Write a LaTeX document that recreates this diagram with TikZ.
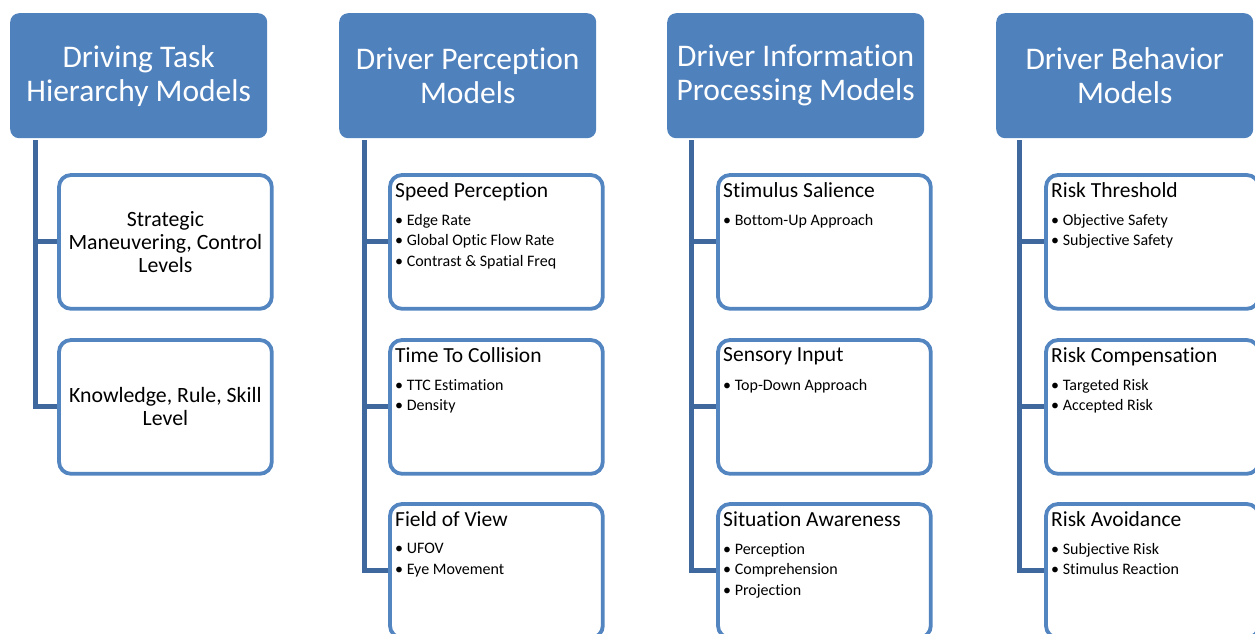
\documentclass[tikz,border=0pt]{standalone}
\usepackage{fontspec}
\setmainfont{Carlito}[Ligatures={NoCommon}]
\begin{document}
\begin{tikzpicture}[x=1pt,y=-1pt,
  hdr/.style={draw=none,fill=hblue,rounded corners=9pt,minimum width=257pt,minimum height=125pt,anchor=north west,inner sep=0pt,text=white,font=\fontsize{31.5}{34}\selectfont,align=center},
  child/.style={draw=cblue,line width=3.8pt,fill=white,rounded corners=12pt,minimum width=209pt,minimum height=130pt,anchor=north west,inner sep=0pt},
  ttl/.style={anchor=north west,inner sep=0pt,font=\fontsize{21.5}{24}\selectfont,text=black},
  bul/.style={anchor=north west,inner sep=0pt,font=\fontsize{16}{20.5}\selectfont,align=left,text=black},
  ctr/.style={inner sep=0pt,font=\fontsize{21.8}{23}\selectfont,align=center,text=black},
  conn/.style={draw=lblue,line width=5pt}]
\definecolor{hblue}{RGB}{79,129,189}
\definecolor{cblue}{RGB}{83,133,193}
\definecolor{lblue}{RGB}{62,104,158}
\useasboundingbox (0,0) rectangle (1255,633);
% headers
\node[hdr] (h1) at (10,13) {Driving Task\\Hierarchy Models};
\node[hdr] (h2) at (339,13) {Driver Perception\\Models};
\node[hdr] (h3) at (667,13) {Driver Information\\Processing Models};
\node[hdr] (h4) at (996,13) {Driver Behavior\\Models};
% top coordinates of connectors
\coordinate (t1) at (35,140);
\coordinate (t2) at (364,140);
\coordinate (t3) at (691,140);
\coordinate (t4) at (1019,140);
% column 1
\node[child] (b11) at (59,175) {};
\node[child] (b12) at (59,340) {};
% column 2
\node[child] (b21) at (390,175) {};
\node[child] (b22) at (390,340) {};
\node[child] (b23) at (390,504) {};
% column 3
\node[child] (b31) at (718,175) {};
\node[child] (b32) at (718,340) {};
\node[child] (b33) at (718,504) {};
% column 4
\node[child] (b41) at (1046,175) {};
\node[child] (b42) at (1046,340) {};
\node[child] (b43) at (1046,504) {};
% connectors
\draw[conn] (t1) |- (b12.west);
\draw[conn] (t1 |- b11.west) -- (b11.west);
\draw[conn] (t2) |- (b23.west);
\draw[conn] (t2 |- b21.west) -- (b21.west);
\draw[conn] (t2 |- b22.west) -- (b22.west);
\draw[conn] (t3) |- (b33.west);
\draw[conn] (t3 |- b31.west) -- (b31.west);
\draw[conn] (t3 |- b32.west) -- (b32.west);
\draw[conn] (t4) |- (b43.west);
\draw[conn] (t4 |- b41.west) -- (b41.west);
\draw[conn] (t4 |- b42.west) -- (b42.west);
% redraw boxes over connectors
\foreach \b in {b11,b12,b21,b22,b23,b31,b32,b33,b41,b42,b43}{
  \draw[draw=cblue,line width=3.8pt,fill=white,rounded corners=12pt] (\b.north west) rectangle (\b.south east);}
% column 1 texts
\node[ctr] (c11) at (b11.center) {Strategic\\Maneuvering, Control\\Levels};
\node[ctr] (c12) at (b12.center) {Knowledge, Rule, Skill\\Level};
% column 2 texts
\node[ttl] (s21) at ([shift={(5,7)}]b21.north west) {Speed Perception};
\node[bul] (l21) at ([shift={(5,39)}]b21.north west) {\textbullet\ Edge Rate\\\textbullet\ Global Optic Flow Rate\\\textbullet\ Contrast \& Spatial Freq};
\node[ttl] (s22) at ([shift={(5,7)}]b22.north west) {Time To Collision};
\node[bul] (l22) at ([shift={(5,39)}]b22.north west) {\textbullet\ TTC Estimation\\\textbullet\ Density};
\node[ttl] (s23) at ([shift={(5,7)}]b23.north west) {Field of View};
\node[bul] (l23) at ([shift={(5,39)}]b23.north west) {\textbullet\ UFOV\\\textbullet\ Eye Movement};
% column 3 texts
\node[ttl] (s31) at ([shift={(5,7)}]b31.north west) {Stimulus Salience};
\node[bul] (l31) at ([shift={(5,39)}]b31.north west) {\textbullet\ Bottom-Up Approach};
\node[ttl] (s32) at ([shift={(5,7)}]b32.north west) {Sensory Input};
\node[bul] (l32) at ([shift={(5,39)}]b32.north west) {\textbullet\ Top-Down Approach};
\node[ttl] (s33) at ([shift={(5,7)}]b33.north west) {Situation Awareness};
\node[bul] (l33) at ([shift={(5,39)}]b33.north west) {\textbullet\ Perception\\\textbullet\ Comprehension\\\textbullet\ Projection};
% column 4 texts
\node[ttl] (s41) at ([shift={(5,7)}]b41.north west) {Risk Threshold};
\node[bul] (l41) at ([shift={(5,39)}]b41.north west) {\textbullet\ Objective Safety\\\textbullet\ Subjective Safety};
\node[ttl] (s42) at ([shift={(5,7)}]b42.north west) {Risk Compensation};
\node[bul] (l42) at ([shift={(5,39)}]b42.north west) {\textbullet\ Targeted Risk\\\textbullet\ Accepted Risk};
\node[ttl] (s43) at ([shift={(5,7)}]b43.north west) {Risk Avoidance};
\node[bul] (l43) at ([shift={(5,39)}]b43.north west) {\textbullet\ Subjective Risk\\\textbullet\ Stimulus Reaction};
\end{tikzpicture}
\end{document}
